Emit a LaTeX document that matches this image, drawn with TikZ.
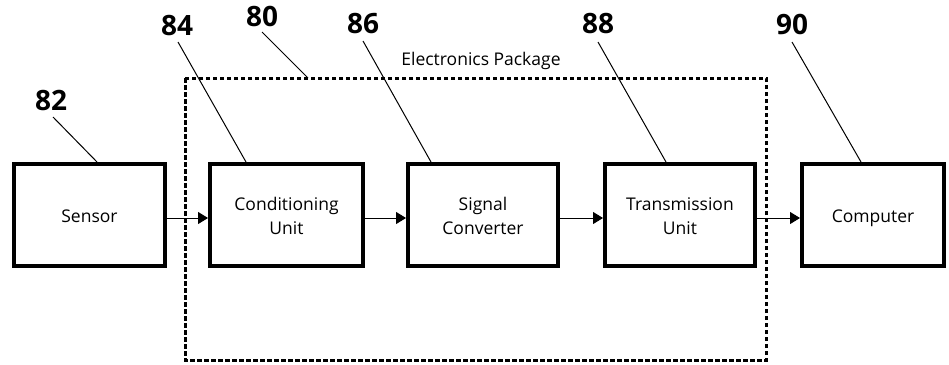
\documentclass[tikz,border=0pt]{standalone}
\usepackage{fontspec}
\setmainfont{Open Sans}
\usetikzlibrary{arrows.meta}
\newcommand\lowtxt[1]{\raisebox{-3pt}[\height][\depth]{\begin{tabular}{@{}c@{}}#1\end{tabular}}}
\begin{document}
\begin{tikzpicture}[x=1pt,y=-1pt,
  blk/.style={draw,line width=4pt,inner sep=0pt,minimum height=102pt,font=\fontsize{17.5}{24}\selectfont},
  num/.style={font=\bfseries\fontsize{28}{30}\selectfont,inner sep=0pt},
  lead/.style={line width=1pt},
  flow/.style={line width=1pt,-{Triangle[length=10pt,width=12pt]}},
  pkg/.style={line width=3pt,dash pattern=on 4.5pt off 2.5pt}]
\useasboundingbox (0,0) rectangle (949,364);
% dashed package
\coordinate (pk1) at (185,78);
\coordinate (pk2) at (766,360);
\draw[pkg] (pk1) rectangle (pk2);
\node[font=\fontsize{17.5}{21}\selectfont,inner sep=0pt] (pkl) at (481,61) {Electronics Package};
% blocks
\node[blk,minimum width=151pt] (s) at (89.5,215) {\lowtxt{Sensor}};
\node[blk,minimum width=153pt] (c) at (286.5,215) {\lowtxt{Conditioning\\Unit}};
\node[blk,minimum width=150pt] (g) at (483,215) {\lowtxt{Signal\\Converter}};
\node[blk,minimum width=150pt] (t) at (680,215) {\lowtxt{Transmission\\Unit}};
\node[blk,minimum width=142pt] (m) at (873,215) {\lowtxt{Computer}};
% flows
\draw[flow] ([yshift=-3pt]s.east) -- ([yshift=-3pt]c.west);
\draw[flow] ([yshift=-3pt]c.east) -- ([yshift=-3pt]g.west);
\draw[flow] ([yshift=-3pt]g.east) -- ([yshift=-3pt]t.west);
\draw[flow] ([yshift=-3pt]t.east) -- ([yshift=-3pt]m.west);
% reference numbers
\node[num] (n82) at (51,100) {82};
\node[num] (n84) at (177,26) {84};
\node[num] (n80) at (262,16) {80};
\node[num] (n86) at (363,24) {86};
\node[num] (n88) at (598,24) {88};
\node[num] (n90) at (792,24) {90};
\coordinate (b82) at (53,117);
\coordinate (b84) at (178,42);
\coordinate (b80) at (262,32);
\coordinate (b86) at (363,41);
\coordinate (b88) at (598,42);
\coordinate (b90) at (792,42);
\coordinate (e82) at (97,162);
\coordinate (e84) at (246,162);
\coordinate (e80) at (308,78);
\coordinate (e86) at (431,162);
\coordinate (e88) at (666,162);
\coordinate (e90) at (861,162);
\draw[lead] (b82) -- (e82);
\draw[lead] (b84) -- (e84);
\draw[lead] (b80) -- (e80);
\draw[lead] (b86) -- (e86);
\draw[lead] (b88) -- (e88);
\draw[lead] (b90) -- (e90);
\end{tikzpicture}
\end{document}
